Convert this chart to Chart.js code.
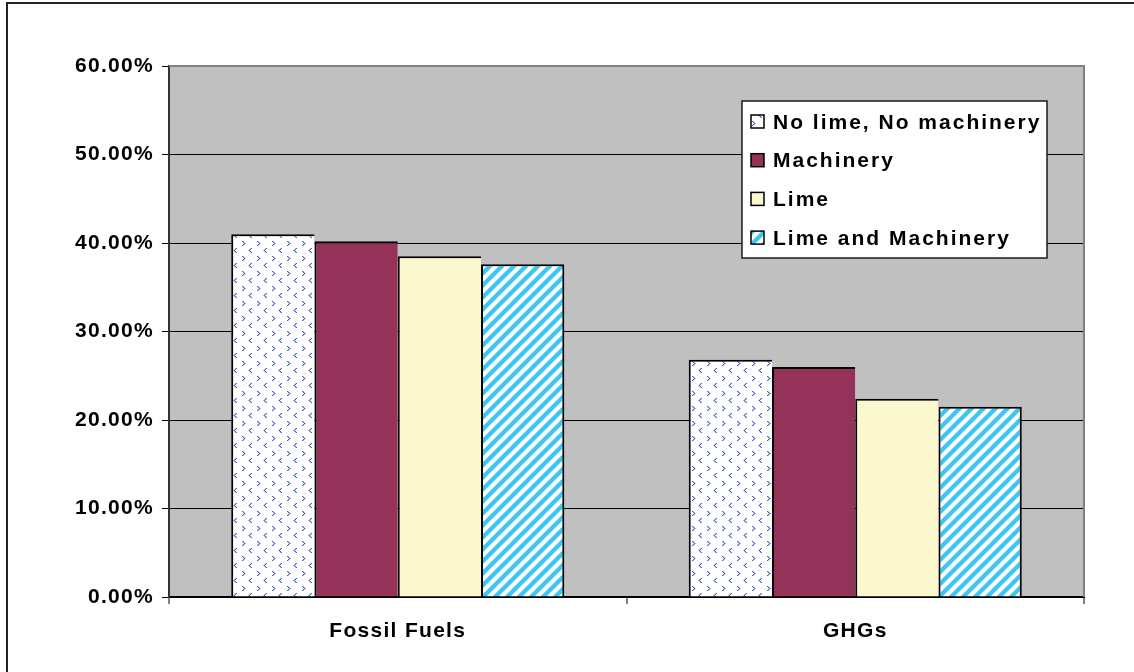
<!DOCTYPE html>
<html>
<head>
<meta charset="utf-8">
<script src="https://cdn.jsdelivr.net/npm/chart.js@4.4.1/dist/chart.umd.min.js"></script>
<style>
  html, body { margin: 0; padding: 0; background: #fff; overflow: hidden; }
  canvas { display: block; }
</style>
</head>
<body>
<canvas id="c" width="1134" height="672"></canvas>
<script>
// Share of savings by scenario
const categories = ['Fossil Fuels', 'GHGs'];
const seriesNames = ['No lime, No machinery', 'Machinery', 'Lime', 'Lime and Machinery'];
const noLimeNoMachinery = [41.0, 26.8];
const machinery = [40.2, 26.0];
const lime = [38.5, 22.4];
const limeAndMachinery = [37.6, 21.5];
const yTicks = [0, 10, 20, 30, 40, 50, 60];

const FONT = '"Liberation Sans", Arial, sans-serif';
const AXIS_SPACING = '1.3px';
const LEGEND_SPACING = '2px';

const canvas = document.getElementById('c');
const ctx = canvas.getContext('2d');

// Small blue chevrons on white
function chevronPattern() {
  const t = document.createElement('canvas');
  t.width = 15; t.height = 15;
  const g = t.getContext('2d');
  g.fillStyle = '#ffffff';
  g.fillRect(0, 0, 15, 15);
  const right = [[0,0],[1,1],[2,2],[1,3],[0,4]];
  const left = [[2,0],[1,1],[0,2],[1,3],[2,4]];
  g.fillStyle = 'rgba(80,105,195,0.45)';
  right.forEach(p => g.fillRect(3 + p[0], 1 + p[1], 1, 1));
  left.forEach(p => g.fillRect(8 + p[0], 8 + p[1], 1, 1));
  g.fillStyle = 'rgba(72,98,192,1)';
  right.forEach(p => g.fillRect(2 + p[0], 1 + p[1], 1, 1));
  left.forEach(p => g.fillRect(9 + p[0], 8 + p[1], 1, 1));
  return ctx.createPattern(t, 'repeat');
}

// Cyan diagonal stripes on white
function stripePattern() {
  const s = 12;
  const t = document.createElement('canvas');
  t.width = s; t.height = s;
  const g = t.getContext('2d');
  g.fillStyle = '#ffffff';
  g.fillRect(0, 0, s, s);
  g.strokeStyle = '#3cc6f0';
  g.lineWidth = 4.4;
  [0, s, 2 * s].forEach(c => {
    g.beginPath();
    g.moveTo(-6, c + 6);
    g.lineTo(c + 6, -6);
    g.stroke();
  });
  return ctx.createPattern(t, 'repeat');
}

const spacingPlugin = {
  id: 'spacing',
  beforeLayout(chart) { chart.ctx.letterSpacing = AXIS_SPACING; },
  beforeDraw(chart) { chart.ctx.letterSpacing = AXIS_SPACING; }
};

const plotFrame = {
  id: 'plotFrame',
  beforeDraw(chart) {
    const { ctx, chartArea: a } = chart;
    ctx.save();
    ctx.fillStyle = '#ffffff';
    ctx.fillRect(0, 0, chart.width, chart.height);
    ctx.fillStyle = '#c0c0c0';
    ctx.fillRect(a.left, a.top, a.right - a.left, a.bottom - a.top);
    ctx.restore();
  },
  beforeDatasetsDraw(chart) {
    const { ctx, chartArea: a } = chart;
    ctx.save();
    ctx.strokeStyle = '#808080';
    ctx.lineWidth = 2;
    ctx.beginPath();
    ctx.moveTo(a.left, a.top);
    ctx.lineTo(a.right, a.top);
    ctx.lineTo(a.right, a.bottom);
    ctx.stroke();
    ctx.restore();
  },
  afterDraw(chart) {
    const ctx = chart.ctx;
    ctx.save();
    ctx.strokeStyle = '#222';
    ctx.lineWidth = 2;
    ctx.beginPath();
    ctx.moveTo(7, chart.height);
    ctx.lineTo(7, 3);
    ctx.lineTo(chart.width, 3);
    ctx.stroke();
    ctx.restore();
  }
};

const boxLegend = {
  id: 'boxLegend',
  afterDraw(chart, args, o) {
    const ctx = chart.ctx;
    ctx.save();
    ctx.fillStyle = '#ffffff';
    ctx.fillRect(o.x, o.y, o.w, o.h);
    ctx.strokeStyle = '#1a1a1a';
    ctx.lineWidth = 1.5;
    ctx.strokeRect(o.x, o.y, o.w, o.h);
    chart.data.datasets.forEach((ds, i) => {
      const cy = o.y + o.first + i * o.gap;
      ctx.fillStyle = ds.backgroundColor;
      ctx.fillRect(o.x + 9, cy - 7, 13, 13);
      ctx.strokeStyle = '#000';
      ctx.lineWidth = 1.5;
      ctx.strokeRect(o.x + 9, cy - 7, 13, 13);
      ctx.fillStyle = '#000';
      ctx.font = 'bold 21px ' + FONT;
      ctx.letterSpacing = LEGEND_SPACING;
      ctx.textAlign = 'left';
      ctx.textBaseline = 'middle';
      ctx.fillText(ds.label, o.x + 31, cy + 1);
    });
    ctx.restore();
  }
};

const seriesValues = [noLimeNoMachinery, machinery, lime, limeAndMachinery];
const fills = [chevronPattern(), '#953259', '#fbf8cf', stripePattern()];

new Chart(ctx, {
  type: 'bar',
  data: {
    labels: categories,
    datasets: seriesValues.map((vals, i) => ({
      label: seriesNames[i],
      data: vals,
      backgroundColor: fills[i],
      borderColor: '#000',
      borderWidth: { top: 2, left: 2, right: i === seriesValues.length - 1 ? 2 : 0, bottom: 0 },
      borderSkipped: false,
      inflateAmount: 0,
      categoryPercentage: 0.728,
      barPercentage: 1.0
    }))
  },
  options: {
    responsive: false,
    animation: false,
    devicePixelRatio: 1,
    layout: { padding: { top: 66, right: 50, left: 0, bottom: 0 } },
    plugins: {
      legend: { display: false },
      tooltip: { enabled: false },
      boxLegend: { x: 742, y: 101, w: 305, h: 157, first: 21, gap: 38.7 }
    },
    scales: {
      x: {
        grid: {
          offset: true,
          drawOnChartArea: false,
          drawTicks: true,
          tickLength: 7,
          color: '#808080',
          lineWidth: 2
        },
        border: { color: '#000', width: 2 },
        ticks: {
          color: '#000',
          font: { family: FONT, size: 21, weight: 'bold' },
          padding: 15,
          maxRotation: 0
        },
        afterFit(scale) { scale.height = 75; }
      },
      y: {
        min: 0,
        max: 60,
        afterBuildTicks(scale) { scale.ticks = yTicks.map(v => ({ value: v })); },
        grid: {
          color: '#000',
          lineWidth: 1,
          tickLength: 7
        },
        border: { color: '#333', width: 2 },
        ticks: {
          color: '#000',
          font: { family: FONT, size: 21, weight: 'bold' },
          padding: 8,
          callback: v => v.toFixed(2) + '%'
        },
        afterFit(scale) { scale.width = 169; }
      }
    }
  },
  plugins: [spacingPlugin, plotFrame, boxLegend]
});
</script>
</body>
</html>
